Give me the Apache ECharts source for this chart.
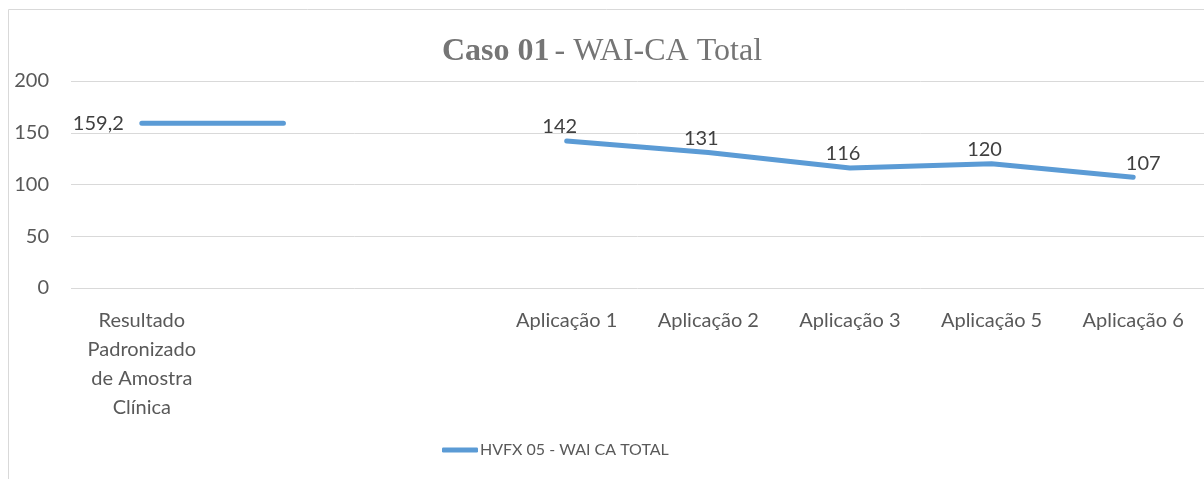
<!DOCTYPE html>
<html><head><meta charset="utf-8">
<script src="https://cdn.jsdelivr.net/npm/echarts@6/dist/echarts.min.js"></script>
<style>html,body{margin:0;padding:0;background:#fff}#c{width:1204px;height:479px}</style>
</head><body><div id="c"></div>
<script>
const categories = ["Resultado\nPadronizado\nde Amostra\nClínica", "", "", "Aplicação 1", "Aplicação 2", "Aplicação 3", "Aplicação 5", "Aplicação 6"];
const values = [159.2, 159.2, null, 142, 131, 116, 120, 107];
const showLabel = [true, false, false, true, true, true, true, true];
const seriesName = "HVFX 05 - WAI CA TOTAL";
const yTicks = [0, 50, 100, 150, 200];

const font = "Lato,'Open Sans',sans-serif";
const data = values.map((v, i) => {
  const item = { value: v, label: { show: showLabel[i] } };
  if (i === 0) { item.label.position = 'left'; item.label.distance = 18; }
  else if (i === values.length - 1) item.label.offset = [10, 0];
  else item.label.offset = [-7, 0];
  return item;
});

const chart = echarts.init(document.getElementById('c'));
chart.setOption({
  animation: false,
  graphic: [{ type: 'rect', shape: { x: 8.5, y: 9.5, width: 1400, height: 800 }, style: { fill: 'none', stroke: '#d9d9d9', lineWidth: 1 }, silent: true }],
  title: {
    text: '{b|Caso 01} {r|- WAI-CA Total}',
    left: 'center', top: 31,
    textStyle: { rich: {
      b: { fontFamily: "'Liberation Serif',serif", fontWeight: 'bold', fontSize: 32, color: '#757575' },
      r: { fontFamily: "'Liberation Serif',serif", fontWeight: 'normal', fontSize: 32, color: '#757575' }
    } }
  },
  legend: {
    left: 437, top: 437, itemWidth: 36, itemHeight: 5, icon: 'roundRect', itemGap: 3,
    textStyle: { fontFamily: font, fontSize: 16, color: '#595959', padding: [0, 0, 0, -3] },
    data: [seriesName]
  },
  grid: { left: 71, width: 1136, top: 81, bottom: 191 },
  xAxis: {
    type: 'category', data: categories, boundaryGap: true,
    axisLine: { show: false }, axisTick: { show: false },
    axisLabel: { interval: 0, color: '#595959', fontFamily: font, fontSize: 20, lineHeight: 29, margin: 18 }
  },
  yAxis: {
    type: 'value', min: yTicks[0], max: yTicks[yTicks.length - 1], interval: 50,
    axisLine: { show: false }, axisTick: { show: false },
    splitLine: { lineStyle: { color: '#d9d9d9', width: 1 } },
    axisLabel: { color: '#595959', fontFamily: font, fontSize: 20, margin: 22 }
  },
  series: [{
    name: seriesName, type: 'line', data: data, symbol: 'circle', symbolSize: 0, showSymbol: true, connectNulls: false,
    lineStyle: { color: '#5B9BD5', width: 5, cap: 'round', join: 'round' },
    itemStyle: { color: '#5B9BD5' },
    label: { show: true, position: 'top', distance: 4, color: '#404040', fontFamily: font, fontSize: 20,
      formatter: p => String(p.value).replace('.', ',') }
  }]
});
</script></body></html>
